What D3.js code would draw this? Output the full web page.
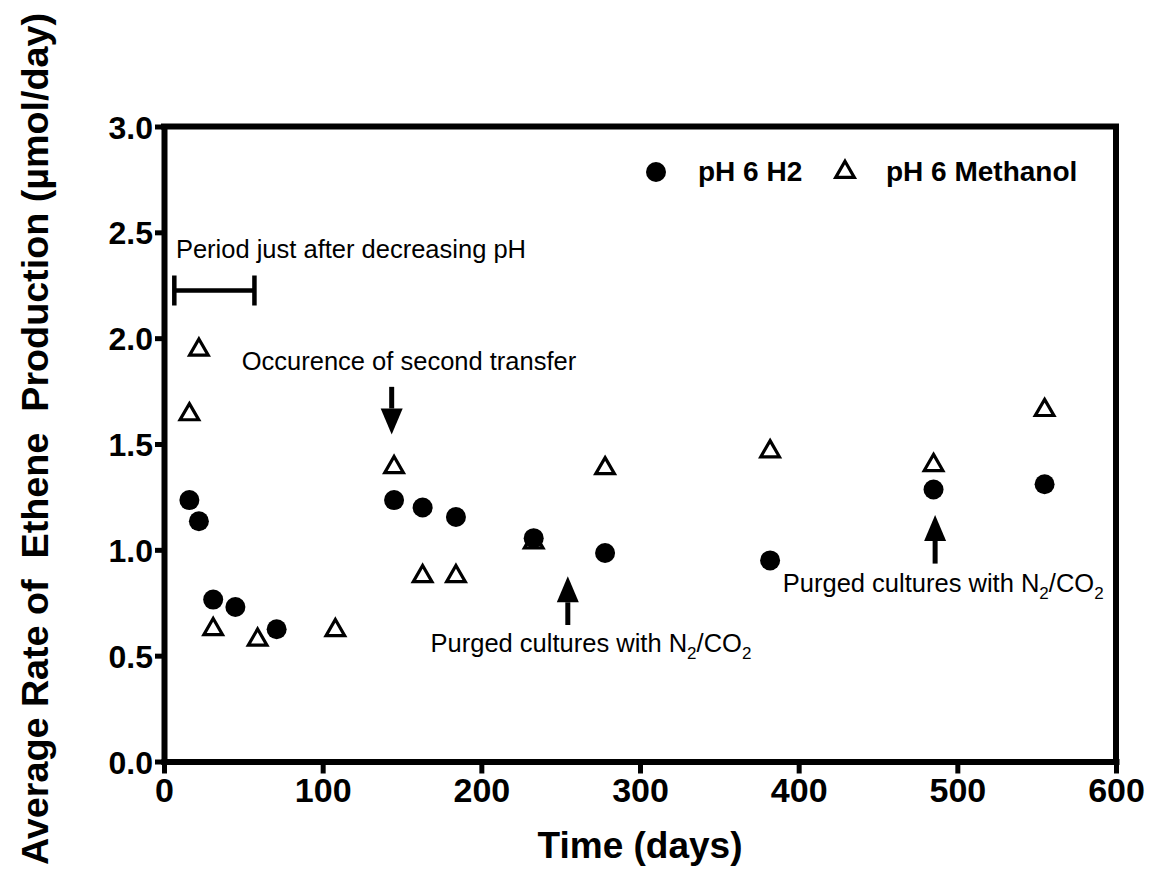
<!DOCTYPE html>
<html lang="en">
<head>
    <meta charset="UTF-8">
    <title>Ethene production</title>
    <script src="https://d3js.org/d3.v7.min.js"></script>
    <style>
        body { margin: 0; background: #fff; font-family: "Liberation Sans", Arial, sans-serif; }
        svg text { fill: #000; }
        .tick text { font-weight: bold; font-size: 32px; }
        .note { font-size: 25.5px; }
        .legend-label { font-weight: bold; font-size: 28px; }
    </style>
</head>
<body>
    <div id="chart"></div>

    <script>
        // pH 6 H2 (filled circles)
        var h2Days   = [16, 22, 31, 45, 71, 145, 163, 184, 233, 278, 382, 485, 555];
        var h2Rates  = [1.235, 1.135, 0.765, 0.73, 0.625, 1.235, 1.2, 1.155, 1.055, 0.985, 0.95, 1.285, 1.31];

        // pH 6 Methanol (open triangles)
        var meDays   = [16, 22, 31, 59, 108, 145, 163, 184, 233, 278, 382, 485, 555];
        var meRates  = [1.64, 1.945, 0.625, 0.575, 0.62, 1.39, 0.875, 0.875, 1.035, 1.385, 1.465, 1.4, 1.66];

        var xTicks = [0, 100, 200, 300, 400, 500, 600];
        var yTicks = [0, 0.5, 1.0, 1.5, 2.0, 2.5, 3.0];

        var width = 1151, height = 876;
        var margin = { top: 126.5, right: 35, bottom: 114.5, left: 164 };

        var svg = d3.select("#chart").append("svg")
            .attr("width", width)
            .attr("height", height);

        var x = d3.scaleLinear().domain([0, 600]).range([margin.left, width - margin.right]);
        var y = d3.scaleLinear().domain([0, 3]).range([height - margin.bottom, margin.top]);

        // frame (top + right)
        svg.append("path")
            .attr("d", "M" + x(0) + "," + y(3) + "H" + x(600) + "V" + y(0))
            .attr("fill", "none")
            .attr("stroke", "#000")
            .attr("stroke-width", 6)
            .attr("stroke-linecap", "square");

        var xAxis = svg.append("g")
            .attr("transform", "translate(0," + y(0) + ")")
            .call(d3.axisBottom(x).tickValues(xTicks).tickFormat(d3.format("d")).tickSizeOuter(0).tickSizeInner(12).tickPadding(4));

        var yAxis = svg.append("g")
            .attr("transform", "translate(" + x(0) + ",0)")
            .call(d3.axisLeft(y).tickValues(yTicks).tickFormat(d3.format(".1f")).tickSizeOuter(0).tickSizeInner(9).tickPadding(2));

        [xAxis, yAxis].forEach(function(g) {
            g.select(".domain").attr("stroke-width", 6).attr("stroke-linecap", "square");
            g.selectAll(".tick line").attr("stroke-width", 5);
        });
        yAxis.selectAll(".tick text").attr("dy", "0.36em");
        xAxis.selectAll(".tick text").style("font-size", "34px");

        // axis titles
        svg.append("text")
            .attr("x", (x(0) + x(600)) / 2)
            .attr("y", 858)
            .attr("text-anchor", "middle")
            .style("font-weight", "bold")
            .style("font-size", "37px")
            .text("Time (days)");

        svg.append("text")
            .attr("transform", "translate(48," + 439 + ") rotate(-90)")
            .attr("text-anchor", "middle")
            .attr("textLength", 852)
            .attr("lengthAdjust", "spacingAndGlyphs")
            .style("font-weight", "bold")
            .style("font-size", "36px")
            .style("white-space", "pre")
            .attr("xml:space", "preserve")
            .text("Average Rate of  Ethene  Production (\u00b5mol/day)");

        // data - triangles under circles
        var tri = d3.symbol().type(d3.symbolTriangle).size(150);
        svg.append("g").selectAll("path")
            .data(d3.zip(meDays, meRates))
            .enter().append("path")
            .attr("d", tri)
            .attr("transform", function(d) { return "translate(" + x(d[0]) + "," + y(d[1]) + ")"; })
            .attr("fill", "#fff")
            .attr("stroke", "#000")
            .attr("stroke-width", 3.2);

        svg.append("g").selectAll("circle")
            .data(d3.zip(h2Days, h2Rates))
            .enter().append("circle")
            .attr("cx", function(d) { return x(d[0]); })
            .attr("cy", function(d) { return y(d[1]); })
            .attr("r", 10)
            .attr("fill", "#000");

        // legend
        svg.append("circle").attr("cx", 656).attr("cy", 172).attr("r", 10).attr("fill", "#000");
        svg.append("text").attr("class", "legend-label").attr("x", 698).attr("y", 181).text("pH 6 H2");
        svg.append("path").attr("d", tri).attr("transform", "translate(845,172)")
            .attr("fill", "#fff").attr("stroke", "#000").attr("stroke-width", 3.2);
        svg.append("text").attr("class", "legend-label").attr("x", 886).attr("y", 181).text("pH 6 Methanol");

        // period bracket
        var bx0 = 6.5, bx1 = 57, by = 2.225;
        svg.append("path")
            .attr("d", "M" + x(bx0) + "," + y(by) + "H" + x(bx1)
                + "M" + x(bx0) + "," + (y(by) - 15) + "V" + (y(by) + 15)
                + "M" + x(bx1) + "," + (y(by) - 15) + "V" + (y(by) + 15))
            .attr("stroke", "#000")
            .attr("stroke-width", 4.5)
            .attr("fill", "none");

        // arrows: [day, from, to]
        var arrows = [[143.5, 1.77, 1.545], [254.5, 0.645, 0.875], [486, 0.935, 1.165]];
        arrows.forEach(function(a) {
            var ax = x(a[0]), y0 = y(a[1]), y1 = y(a[2]);
            var dir = y1 > y0 ? 1 : -1;
            var hb = y1 - dir * 26;
            svg.append("line")
                .attr("x1", ax).attr("x2", ax).attr("y1", y0).attr("y2", hb)
                .attr("stroke", "#000").attr("stroke-width", 5);
            svg.append("path")
                .attr("d", "M" + (ax - 11) + "," + hb + "L" + (ax + 11) + "," + hb + "L" + ax + "," + y1 + "Z")
                .attr("fill", "#000");
        });

        // notes
        svg.append("text").attr("class", "note").attr("x", x(7.5)).attr("y", y(2.38)).text("Period just after decreasing pH");
        svg.append("text").attr("class", "note").attr("x", x(49)).attr("y", y(1.85)).text("Occurence of second transfer");

        function purged(day, val) {
            var t = svg.append("text").attr("class", "note").attr("x", x(day)).attr("y", y(val));
            t.append("tspan").text("Purged cultures with N");
            t.append("tspan").attr("dy", 7).style("font-size", "17px").text("2");
            t.append("tspan").attr("dy", -7).text("/CO");
            t.append("tspan").attr("dy", 7).style("font-size", "17px").text("2");
        }
        purged(168, 0.515);
        purged(390, 0.80);
    </script>
</body>
</html>
